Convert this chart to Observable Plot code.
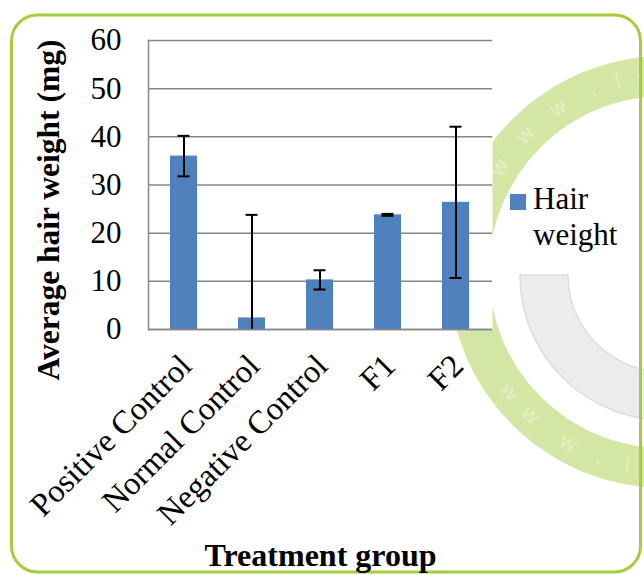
<!DOCTYPE html>
<html><head><meta charset="utf-8">
<script src="https://cdn.jsdelivr.net/npm/d3@7"></script>
<script src="https://cdn.jsdelivr.net/npm/@observablehq/plot@0.6"></script>
<style>
body{margin:0;background:#fff;}
#wrap{position:relative;width:644px;height:575px;overflow:hidden;font-family:"Liberation Serif","Times New Roman",serif;}
#bg{position:absolute;left:0;top:0;}
#chart{position:absolute;left:0;top:0;}
#legend{position:absolute;left:510px;top:181px;font-size:31px;line-height:36px;color:#000;}
#legend .sw{position:absolute;left:0;top:13px;width:16px;height:16px;background:#4f81bd;}
#legend .lb{position:absolute;left:23px;top:0;width:110px;}
</style></head>
<body><div id="wrap">
<svg id="bg" width="644" height="575">
  <path fill="#d3e6a4" fill-rule="evenodd" d="M449,272a216,216 0 1,0 432,0a216,216 0 1,0 -432,0Z M489,272a176,176 0 1,0 352,0a176,176 0 1,0 -352,0Z"/>
  <path fill="#ececec" stroke="#dcdcdc" stroke-width="1.5" d="M520,275 A145,145 0 0,0 665,420 L665,372 A97,97 0 0,1 568,275 Z"/>
  <g id="wm" fill="#e3efc4" font-family="DejaVu Sans, sans-serif" font-size="21" text-anchor="middle" dominant-baseline="central"></g>
  <rect x="11.5" y="15" width="629" height="557" rx="26" ry="26" fill="none" stroke="#a3cd3b" stroke-width="3"/>
</svg>
<div id="chart"></div>
<div id="legend"><span class="sw"></span><div class="lb" id="lb"></div></div>
</div>
<script>
const groups = ["Positive Control", "Normal Control", "Negative Control", "F1", "F2"];
const means = [36.0, 2.4, 10.3, 23.8, 26.4];
const errors = [4.2, 21.4, 2.0, 0.2, 15.7];
const yTicks = [0, 10, 20, 30, 40, 50, 60];
const seriesName = "Hair weight";
const xTitle = "Treatment group";
const yTitle = "Average hair weight (mg)";

// decorative watermark letters along the ring
const wmTop = [["w", -147.8], ["w", -135.6], ["w", -123], [".", -111.6], ["i", -103.9], ["j", -97.6]];
const wmBottom = [["w", 142.4], ["w", 133.2], ["w", 119.5], [".", 109.4], ["i", 101]];
const wm = document.getElementById("wm");
const addWm = (ch, deg, rot) => {
  const a = deg * Math.PI / 180, r = 196, cx = 665, cy = 272;
  const x = cx + r * Math.cos(a), y = cy + r * Math.sin(a);
  const t = document.createElementNS("http://www.w3.org/2000/svg", "text");
  t.setAttribute("transform", `translate(${x},${y}) rotate(${deg + rot})`);
  t.textContent = ch;
  wm.appendChild(t);
};
wmTop.forEach(([c, d]) => addWm(c, d, 90));
wmBottom.forEach(([c, d]) => addWm(c, d, -90));

const data = groups.map((g, i) => ({group: g, mean: means[i], err: errors[i]}));
document.getElementById("lb").textContent = seriesName;

const chart = Plot.plot({
  width: 644, height: 575,
  marginLeft: 148, marginRight: 152, marginTop: 40, marginBottom: 246,
  style: {background: "transparent", fontFamily: "'Liberation Serif','Times New Roman',serif", fontSize: "31px", color: "#000", overflow: "visible"},
  x: {domain: groups, paddingInner: 0.6, paddingOuter: 0.3, label: null},
  y: {domain: [0, 60], label: null},
  marks: [
    Plot.frame({fill: "white", stroke: null}),
    Plot.gridY(yTicks, {stroke: "#868686", strokeOpacity: 1, strokeWidth: 1.5}),
    Plot.axisY(yTicks, {tickSize: 0, tickPadding: 27, fontSize: 31, label: null}),
    Plot.axisX({tickSize: 0, tickRotate: -45, tickPadding: 31, dx: 2, fontSize: 32.5, label: null}),
    Plot.barY(data, {x: "group", y: "mean", fill: "#4f81bd"}),
    Plot.ruleX(data, {x: "group", y1: d => d.mean - d.err, y2: d => d.mean + d.err, stroke: "black", strokeWidth: 2, clip: true}),
    Plot.tickY(data, {x: "group", y: d => d.mean + d.err, insetLeft: 7.5, insetRight: 7.5, stroke: "black", strokeWidth: 2, clip: true}),
    Plot.tickY(data, {x: "group", y: d => d.mean - d.err, insetLeft: 7.5, insetRight: 7.5, stroke: "black", strokeWidth: 2, clip: true}),
    Plot.ruleY([0], {stroke: "#868686", strokeWidth: 1.5}),
    Plot.frame({anchor: "left", stroke: "#868686", strokeWidth: 1.5}),
    Plot.text([xTitle], {frameAnchor: "bottom", dy: 236, fontWeight: "bold", fontSize: 32, fill: "black"}),
    Plot.text([yTitle], {frameAnchor: "left", textAnchor: "middle", rotate: -90, dx: -100, dy: 25, fontWeight: "bold", fontSize: 31.5, fill: "black"})
  ]
});
document.getElementById("chart").appendChild(chart);
</script>
</body></html>
